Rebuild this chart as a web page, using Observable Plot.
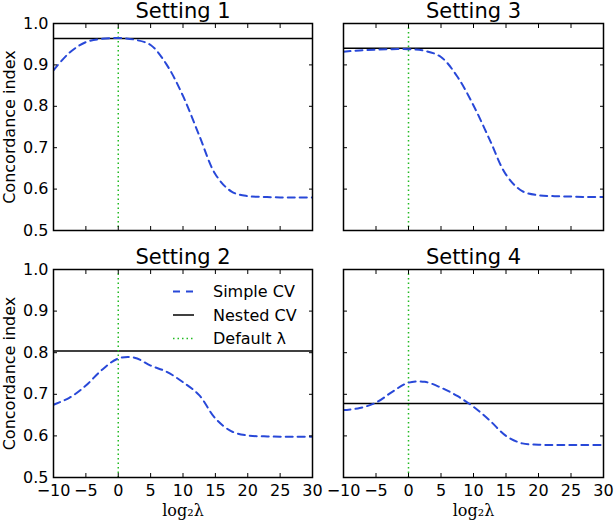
<!DOCTYPE html>
<html><head><meta charset="utf-8">
<script src="https://cdn.jsdelivr.net/npm/d3@7"></script>
<script src="https://cdn.jsdelivr.net/npm/@observablehq/plot@0.6"></script>
<style>
body{margin:0;background:#fff;}
#wrap{position:relative;width:614px;height:520px;font-family:"DejaVu Sans",sans-serif;background:#fff;}
#wrap > .panel{position:absolute;}
#legend{position:absolute;left:0;top:0;pointer-events:none;}
</style></head><body><div id="wrap"></div>
<script>
// log2(lambda) grid shared by all settings
const lambdaGrid = [-10,-7.5,-5,-2.5,0,2.5,5,7.5,10,12.5,15,17.5,20,22.5,25,27.5,30];
// Simple CV concordance index per setting
const simpleCV1 = [0.887,0.930,0.955,0.963,0.965,0.961,0.948,0.900,0.825,0.730,0.636,0.594,0.583,0.581,0.580,0.580,0.580];
const simpleCV2 = [0.675,0.692,0.721,0.759,0.786,0.788,0.769,0.754,0.729,0.698,0.642,0.611,0.601,0.599,0.598,0.598,0.598];
const simpleCV3 = [0.932,0.935,0.937,0.938,0.938,0.934,0.919,0.872,0.802,0.719,0.635,0.595,0.585,0.583,0.582,0.581,0.581];
const simpleCV4 = [0.662,0.667,0.680,0.706,0.728,0.730,0.716,0.696,0.670,0.637,0.600,0.582,0.579,0.578,0.578,0.578,0.578];
// Nested CV concordance index per setting (1..4)
const nestedCV = [0.964, 0.804, 0.940, 0.678];
const defaultLambda = 0;
const panelTitles = ["Setting 1","Setting 2","Setting 3","Setting 4"];
const xTicks = [-10,-5,0,5,10,15,20,25,30];
const yTicks = [0.5,0.6,0.7,0.8,0.9,1.0];
const xDomain = [-10, 30];
const yDomain = [0.5, 1.0];
const yLabel = "Concordance index";
const xLabel = "log₂λ";
const legendLabels = ["Simple CV","Nested CV","Default λ"];

const BLUE = "#2848d8", GREEN = "#22bb22";
const fmtX = d => d < 0 ? "\u2212" + Math.abs(d) : String(d);
const fmtY = d3.format(".1f");

const wrap = document.getElementById("wrap");

function panel(values, nested, title, pos, showY, showX) {
  const data = lambdaGrid.map((x, i) => ({x, y: values[i]}));
  const marks = [
    Plot.ruleY([nested], {stroke: "black", strokeWidth: 1.5}),
    Plot.ruleX([defaultLambda], {stroke: GREEN, strokeWidth: 1.5, strokeDasharray: "1.5,3"}),
    Plot.line(data, {x: "x", y: "y", stroke: BLUE, strokeWidth: 2, strokeDasharray: "7,5", curve: "catmull-rom", clip: true}),
    Plot.frame({strokeWidth: 1.5}),
    Plot.axisX(xTicks, {anchor: "bottom", tickSize: -4, tickPadding: 11, label: null, fontSize: 16, tickFormat: showX ? fmtX : () => ""}),
    Plot.axisX(xTicks, {anchor: "top", tickSize: -4, label: null, tickFormat: () => ""}),
    Plot.axisY(yTicks, {anchor: "left", tickSize: -4, tickPadding: 9, label: null, fontSize: 16, tickFormat: showY ? fmtY : () => ""}),
    Plot.axisY(yTicks, {anchor: "right", tickSize: -4, label: null, tickFormat: () => ""}),
    Plot.text([title], {frameAnchor: "top", dy: -6, lineAnchor: "bottom", fontSize: 21})
  ];
  if (showY) marks.push(Plot.text([yLabel], {frameAnchor: "left", textAnchor: "middle", rotate: -90, dx: -39, lineAnchor: "bottom", fontSize: 16}));
  if (showX) marks.push(Plot.text([xLabel], {frameAnchor: "bottom", dy: 27, lineAnchor: "top", fontSize: 16, fontFamily: "DejaVu Serif"}));
  const svg = Plot.plot({
    width: pos.w, height: pos.h,
    marginLeft: pos.ml, marginRight: pos.mr, marginTop: pos.mt, marginBottom: pos.mb,
    x: {domain: xDomain},
    y: {domain: yDomain},
    style: {fontFamily: "DejaVu Sans", fontSize: "16px", overflow: "visible", background: "transparent", color: "black"},
    marks
  });
  svg.classList.add("panel");
  svg.style.left = pos.left + "px";
  svg.style.top = pos.top + "px";
  wrap.appendChild(svg);
}

panel(simpleCV1, nestedCV[0], panelTitles[0], {left: 0, top: 0, w: 320, h: 250, ml: 53, mr: 8, mt: 23, mb: 20}, true, false);
panel(simpleCV3, nestedCV[2], panelTitles[2], {left: 320, top: 0, w: 294, h: 250, ml: 23, mr: 11, mt: 23, mb: 20}, false, false);
panel(simpleCV2, nestedCV[1], panelTitles[1], {left: 0, top: 250, w: 320, h: 270, ml: 53, mr: 8, mt: 19, mb: 43}, true, true);
panel(simpleCV4, nestedCV[3], panelTitles[3], {left: 320, top: 250, w: 294, h: 270, ml: 23, mr: 11, mt: 19, mb: 43}, false, true);

// legend overlay (Setting 2 panel, upper right)
const lg = d3.select(wrap).append("svg").attr("id", "legend").attr("width", 614).attr("height", 520);
const styles = [
  {stroke: BLUE, width: 2, dash: "7,6"},
  {stroke: "black", width: 1.5, dash: null},
  {stroke: GREEN, width: 1.5, dash: "1.5,3"}
];
legendLabels.forEach((lab, i) => {
  const base = 297 + i * 23.5;
  lg.append("line").attr("x1", 173).attr("x2", 194).attr("y1", base - 5.5).attr("y2", base - 5.5)
    .attr("stroke", styles[i].stroke).attr("stroke-width", styles[i].width)
    .attr("stroke-dasharray", styles[i].dash);
  lg.append("text").attr("x", 213).attr("y", base).attr("font-size", 16)
    .attr("font-family", "DejaVu Sans").text(lab);
});
</script></body></html>
